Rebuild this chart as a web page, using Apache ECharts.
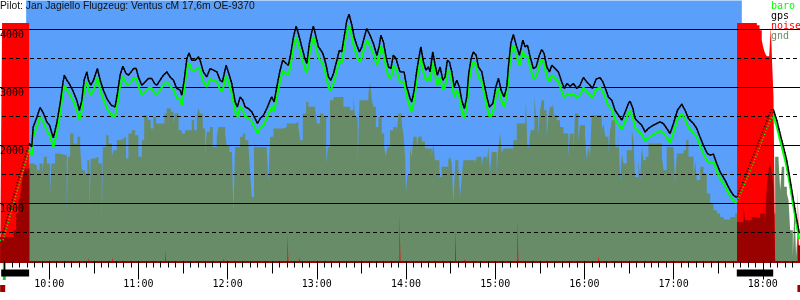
<!DOCTYPE html>
<html>
<head>
<meta charset="utf-8">
<script src="https://cdn.jsdelivr.net/npm/echarts@6/dist/echarts.min.js"></script>
<style>
html, body { margin: 0; padding: 0; background: #fff; }
#chart { width: 800px; height: 300px; }
</style>
</head>
<body>
<div id="chart"></div>
<script>
// Barogramm: Zeit in Minuten seit Mitternacht, Höhe in m
var titleText = 'Pilot: Jan Jagiello Flugzeug: Ventus cM 17,6m OE-9370';
var legendNames = ['baro', 'gps', 'noise', 'gnd'];
var solidLevels = [1000, 2000, 3000, 4000];
var dashedLevels = [500, 1500, 2500, 3500];
var flightWindow = [584.5, 1065.9];
var engineRuns = [[567.7, 586.5], [1062.5, 1087.0]];
var takeoffMark = [568.8, 570.8];
var edgeMarks = [[567.0, 570.4], [1103.3, 1106.0]];

var times = [
  567.0, 569.0, 577.1, 586.5, 588.3, 589.2, 591.7, 593.9, 596.1, 598.4,
  600.2, 601.8, 602.8, 605.1, 607.4, 609.2, 610.2, 611.9, 614.1, 616.3,
  618.6, 620.3, 622.0, 623.5, 625.3, 626.4, 628.0, 629.8, 632.4, 634.3,
  636.5, 638.8, 641.7, 644.3, 645.9, 647.7, 649.5, 651.7, 653.3, 655.1,
  656.7, 658.5, 660.0, 662.3, 664.5, 666.7, 669.0, 670.8, 672.4, 674.6,
  676.8, 679.1, 681.3, 683.6, 685.8, 688.1, 689.2, 690.8, 692.6, 694.1,
  695.9, 698.2, 700.4, 701.5, 703.7, 706.0, 708.2, 710.5, 712.8, 715.0,
  716.5, 719.0, 721.2, 722.8, 725.1, 726.6, 728.4, 730.2, 731.8, 734.0,
  736.3, 738.5, 740.1, 741.9, 744.1, 746.4, 748.6, 749.7, 751.3, 753.1,
  755.3, 757.1, 759.4, 760.9, 762.5, 764.3, 766.1, 767.6, 769.9, 771.7,
  773.3, 775.0, 776.6, 777.7, 779.5, 781.1, 782.7, 784.1, 786.3, 787.8,
  789.4, 791.2, 793.5, 795.2, 796.8, 798.4, 800.2, 801.7, 803.6, 805.1,
  806.9, 808.7, 810.3, 812.0, 813.6, 814.7, 816.3, 818.1, 820.4, 821.9,
  823.1, 824.8, 826.6, 828.2, 829.8, 831.5, 833.3, 834.9, 836.0, 838.7,
  840.5, 842.8, 843.9, 845.5, 847.3, 848.8, 850.0, 851.7, 853.5, 855.1,
  856.2, 858.0, 859.6, 861.1, 862.9, 864.8, 866.3, 867.8, 869.2, 870.8,
  872.4, 874.2, 875.9, 877.5, 879.3, 880.9, 882.2, 883.8, 885.3, 887.2,
  888.7, 891.0, 892.5, 894.4, 896.1, 898.4, 900.4, 902.2, 904.0, 906.0,
  907.8, 908.9, 910.5, 912.2, 914.5, 916.3, 918.6, 920.1, 921.7, 923.5,
  925.7, 927.5, 929.7, 931.3, 932.9, 934.7, 936.5, 938.1, 940.3, 942.5,
  944.8, 946.5, 948.2, 950.4, 952.6, 954.9, 957.1, 959.3, 961.6, 963.8,
  965.4, 967.9, 970.6, 972.4, 974.6, 976.1, 978.4, 980.6, 982.9, 985.2,
  987.4, 989.6, 990.7, 992.6, 994.1, 996.3, 998.6, 1000.8, 1003.0, 1006.4,
  1010.9, 1013.1, 1015.4, 1017.6, 1019.9, 1022.6, 1025.5, 1027.7, 1030.0, 1033.3,
  1035.6, 1037.8, 1040.0, 1042.7, 1044.5, 1046.8, 1049.0, 1051.3, 1054.6, 1058.0,
  1060.2, 1062.5, 1071.5, 1078.2, 1086.0, 1087.1, 1089.4, 1091.6, 1093.9, 1096.1,
  1098.4, 1100.6, 1102.9, 1104.6
];

var gps = [
  505, 505, 1229, 2040, 1976, 2315, 2488, 2655, 2557, 2407,
  2350, 2212, 2134, 2384, 2729, 3074, 3212, 3126, 3039, 2924,
  2781, 2608, 2781, 3126, 3269, 3126, 3039, 3126, 3327, 3126,
  2953, 2810, 2695, 2665, 2896, 3212, 3367, 3241, 3212, 3269,
  3327, 3327, 3183, 3039, 3096, 3155, 3155, 3069, 3039, 3126,
  3212, 3269, 3183, 3126, 2983, 2953, 2867, 3126, 3500, 3596,
  3470, 3470, 3527, 3470, 3269, 3183, 3327, 3298, 3269, 3126,
  3096, 3384, 3212, 3069, 2751, 2665, 2838, 2781, 2665, 2638,
  2579, 2465, 2379, 2465, 2522, 2638, 2781, 2838, 2751, 3010,
  3298, 3470, 3414, 3384, 3586, 3872, 4057, 3931, 3700, 3527,
  3414, 3758, 3958, 4057, 3872, 3700, 3643, 3586, 3384, 3183,
  3126, 3241, 3470, 3643, 3614, 3872, 4160, 4264, 4074, 3872,
  3729, 3614, 3700, 3872, 4017, 3988, 3872, 3758, 3557, 3700,
  3901, 3786, 3527, 3355, 3327, 3557, 3500, 3355, 3269, 3269,
  3010, 2810, 2751, 2953, 3298, 3527, 3700, 3441, 3298, 3355,
  3269, 3614, 3384, 3212, 3355, 3126, 3183, 3470, 3441, 3269,
  3010, 3126, 3010, 2781, 2638, 2838, 3241, 3500, 3614, 3557,
  3355, 3269, 3069, 2838, 2665, 2724, 3010, 3155, 2953, 2838,
  3010, 3355, 3758, 3913, 3700, 3557, 3815, 3700, 3729, 3527,
  3327, 3355, 3557, 3655, 3586, 3355, 3269, 3384, 3327, 3269,
  3096, 2983, 3069, 3022, 3069, 2983, 3039, 3172, 3096, 3039,
  2983, 3143, 3172, 3096, 2953, 2838, 2781, 2608, 2522, 2436,
  2579, 2724, 2764, 2638, 2465, 2407, 2350, 2234, 2293, 2350,
  2407, 2379, 2293, 2207, 2379, 2608, 2712, 2608, 2465, 2379,
  2293, 2148, 2005, 1862, 1833, 1850, 1690, 1545, 1402, 1229,
  1143, 1103, 1690, 2126, 2643, 2625, 2436, 2207, 1976, 1746,
  1402, 1057, 712, 483
];

var baro = [
  367, 367, 1091, 1919, 1830, 2150, 2320, 2490, 2400, 2250,
  2190, 2050, 1975, 2210, 2560, 2900, 3040, 2960, 2870, 2760,
  2610, 2440, 2610, 2950, 3100, 2960, 2870, 2950, 3160, 2960,
  2790, 2640, 2530, 2500, 2720, 3040, 3190, 3070, 3040, 3100,
  3160, 3160, 3020, 2870, 2930, 2990, 2990, 2900, 2870, 2960,
  3040, 3100, 3020, 2960, 2820, 2790, 2700, 2950, 3320, 3420,
  3300, 3300, 3350, 3300, 3100, 3010, 3150, 3120, 3100, 2960,
  2930, 3210, 3040, 2900, 2590, 2500, 2670, 2620, 2500, 2470,
  2410, 2300, 2210, 2300, 2350, 2470, 2610, 2670, 2580, 2840,
  3120, 3290, 3240, 3210, 3400, 3690, 3870, 3750, 3520, 3350,
  3240, 3570, 3770, 3870, 3690, 3520, 3460, 3400, 3200, 3010,
  2950, 3070, 3290, 3460, 3430, 3680, 3960, 4070, 3880, 3690,
  3550, 3440, 3520, 3690, 3830, 3800, 3690, 3580, 3380, 3520,
  3720, 3600, 3350, 3180, 3150, 3380, 3320, 3180, 3100, 3100,
  2840, 2640, 2580, 2780, 3120, 3350, 3520, 3270, 3120, 3180,
  3100, 3430, 3210, 3040, 3180, 2960, 3010, 3290, 3270, 3100,
  2840, 2960, 2840, 2610, 2470, 2670, 3070, 3320, 3440, 3380,
  3180, 3100, 2900, 2670, 2500, 2560, 2840, 2990, 2790, 2670,
  2840, 3180, 3580, 3730, 3530, 3380, 3630, 3520, 3550, 3350,
  3160, 3180, 3380, 3480, 3410, 3180, 3100, 3210, 3160, 3100,
  2930, 2820, 2900, 2860, 2900, 2820, 2870, 3000, 2930, 2870,
  2820, 2970, 3000, 2930, 2790, 2680, 2620, 2450, 2360, 2280,
  2420, 2560, 2600, 2480, 2310, 2250, 2190, 2080, 2130, 2190,
  2250, 2220, 2140, 2050, 2220, 2450, 2550, 2450, 2310, 2220,
  2140, 2000, 1860, 1730, 1700, 1720, 1570, 1430, 1300, 1130,
  1050, 1010, 1560, 1990, 2500, 2520, 2330, 2090, 1860, 1630,
  1290, 950, 600, 380
];

// Geländehöhe [Zeit, m], Stufen
var gnd = [
  [586.5,1689],[589.4,1660],[591.7,1574],[593.5,1689],[595.5,1545],[596.6,1804],[598.4,1689],[600.6,1143],[601.5,1689],[604.0,1861],
  [606.2,1833],[611.8,770],[612.5,1804],[614.1,2206],[616.3,2034],[619.0,2149],[620.8,1976],[621.9,1574],[624.2,1517],[625.7,1747],
  [627.1,884],[628.0,1775],[630.9,1804],[633.1,1689],[635.4,712],[636.1,1976],[638.3,2177],[639.9,2034],[642.1,1804],[643.2,1919],
  [645.5,2091],[647.7,2120],[650.0,2149],[651.7,1775],[653.3,2206],[655.6,2264],[657.8,2177],[660.0,1804],[662.3,2091],[663.9,2522],
  [665.6,2551],[666.8,2436],[668.3,2292],[670.1,2494],[671.9,2379],[677.5,2551],[679.1,2637],[681.8,2580],[683.6,2379],[684.7,2551],
  [687.0,2264],[689.2,2206],[691.4,2264],[695.9,2436],[697.5,2264],[699.3,2522],[700.4,2637],[701.5,2551],[703.3,2292],[704.9,1861],
  [706.0,2235],[708.2,2321],[710.0,1976],[712.7,2149],[713.8,2321],[718.3,2206],[719.4,2005],[721.2,1890],[722.8,2034],[723.9,827],
  [725.0,1976],[728.4,2149],[730.2,2206],[731.8,2091],[734.0,2034],[735.1,1517],[736.3,1114],[737.8,1976],[746.3,1919],[747.5,1373],
  [748.6,2149],[750.8,2292],[757.5,2321],[759.8,2379],[765.4,2407],[767.6,2321],[768.8,2091],[770.6,2551],[772.8,2752],[774.4,2666],
  [778.9,2608],[780.0,2379],[782.2,2551],[784.5,2494],[786.3,1689],[787.4,1976],[788.9,2781],[791.2,2838],[797.9,2666],[802.4,2608],
  [804.6,2838],[805.8,2494],[807.5,1689],[808.7,2781],[814.7,2896],[815.8,3097],[817.0,2781],[818.1,2666],[819.7,2321],[821.5,2494],
  [823.7,2206],[825.3,1976],[826.4,1804],[827.5,1976],[829.3,2264],[831.5,2321],[833.8,2206],[834.9,2551],[837.1,2379],[838.2,2206],
  [839.4,1804],[840.0,1200],[840.9,1488],[842.7,1976],[843.8,1804],[845.0,2149],[847.2,1948],[848.3,2149],[850.6,2063],[852.8,1948],
  [857.3,1804],[858.4,2034],[859.5,1747],[862.5,1459],[864.0,1632],[868.5,1747],[869.6,1804],[870.8,1689],[871.9,999],[873.2,1747],
  [875.2,1632],[876.4,1114],[877.5,1459],[878.6,1747],[886.4,1689],[887.6,1804],[890.9,1632],[892.1,1804],[894.3,1689],[895.4,1976],
  [896.5,1517],[897.7,1890],[901.0,1517],[902.1,1976],[903.3,2206],[904.4,1861],[905.5,1948],[912.2,2091],[914.5,2379],[920.1,2350],
  [920.7,2752],[921.6,1976],[923.0,2091],[923.9,2264],[926.4,2838],[927.5,2494],[929.0,2149],[930.2,2608],[931.3,2781],[932.9,2608],
  [934.6,2149],[935.8,2494],[936.9,2666],[938.7,2752],[939.6,2522],[941.4,2436],[943.6,2321],[945.9,2206],[949.2,1804],[950.3,2206],
  [952.6,1861],[953.7,2551],[955.9,2091],[957.1,2350],[960.4,2149],[961.6,1747],[962.7,2005],[963.8,1804],[964.9,2522],[971.7,2264],
  [972.8,2379],[974.0,2149],[976.2,1861],[977.3,2264],[978.4,2436],[980.7,1976],[982.9,2177],[984.1,1373],[985.2,1861],[986.3,1689],
  [988.5,1919],[991.9,2264],[993.0,2091],[994.1,1459],[996.4,1747],[997.5,1402],[998.6,1976],[999.7,1747],[1001.3,1804],[1003.1,2034],
  [1012.1,1804],[1013.2,1574],[1015.4,1976],[1019.9,1948],[1021.0,1344],[1022.2,1861],[1026.7,1919],[1028.4,2091],[1030.0,1804],[1033.4,1459],
  [1034.5,1747],[1035.6,1402],[1037.9,1632],[1040.1,1517],[1042.3,1172],[1044.6,999],[1046.8,884],[1049.1,827],[1051.3,769],[1053.6,723],
  [1058.0,769],[1061.4,827],[1088.3,1804],[1090.6,1747],[1091.7,1229],[1092.8,1632],[1094.4,1287],[1096.2,1172],[1097.3,1057],[1098.4,540],
  [1100.2,80],[1101.3,942],[1102.4,80],[1103.3,482],[1104.5,137],[1106.0,137]
];

// Motorgeräusch (hell) und Geräuschpegel (dunkel)
var noise = [
  [567.0,0],[568.3,4110],[586.5,0],[626.4,57],[627.1,0],[642.5,69],[643.2,0],[678.0,195],[678.7,0],
  [717.2,57],[717.9,0],[760.2,470],[760.9,0],[768.3,79],[769.0,0],[835.6,815],[836.3,0],
  [873.0,574],[873.7,0],[879.3,45],[880.0,0],[914.9,712],[915.6,0],[969.4,91],[970.1,0],
  [1062.7,4113],[1076.0,4074],[1077.8,3988],[1079.3,3816],[1080.5,3672],[1081.6,3586],[1082.7,3540],
  [1084.3,3528],[1085.4,4045],[1086.3,3413],[1087.2,2838],[1088.3,0],[1103.5,1264],[1104.4,0],[1106.0,0]
];
var noiseLow = [
  [567.0,424],[576.0,540],[577.8,832],[579.3,1057],[580.5,1114],[581.6,1373],[582.7,1517],[583.8,1603],[586.7,0],
  [1062.7,683],[1067.0,942],[1068.1,712],[1072.6,769],[1076.0,741],[1078.2,827],[1080.5,942],[1081.6,712],
  [1082.7,1287],[1083.8,1574],[1084.9,1689],[1086.1,1517],[1087.2,1287],[1088.3,0],[1103.5,281],[1106.0,281]
];

var chart = echarts.init(document.getElementById('chart'));

function hhmm(m) {
    var h = Math.floor(m / 60), mm = Math.round(m % 60);
    return h + ':' + (mm < 10 ? '0' : '') + mm;
}
function inRun(t) {
    return engineRuns.some(function (r) { return t > r[0] && t < r[1]; });
}
function track(vals, solid) {
    return times.map(function (t, i) {
        return [t, (solid && inRun(t)) ? '-' : vals[i]];
    });
}
function spans(list) {
    return list.map(function (r) { return [{ xAxis: r[0] }, { xAxis: r[1] }]; });
}

var mono = 'DejaVu Sans Mono';

function gridAt(top, bottom, height) {
    var g = { left: -40, right: -52, top: top, outerBoundsMode: 'none', containLabel: false };
    if (height != null) g.height = height; else g.bottom = bottom;
    return g;
}
function hiddenX(i) {
    return { type: 'value', gridIndex: i, min: 540, max: 1140, show: false };
}
function hiddenY(i) {
    return { type: 'value', gridIndex: i, min: 0, max: 1, show: false };
}
function strip(i, list, color) {
    return {
        type: 'line', xAxisIndex: i, yAxisIndex: i, data: [], silent: true,
        markArea: { silent: true, itemStyle: { color: color }, label: { show: false }, data: spans(list) }
    };
}

var option = {
    animation: false,
    backgroundColor: '#fff',
    title: {
        text: titleText, left: 0, top: 1, padding: 0, z: 20,
        textStyle: { fontFamily: 'Liberation Sans', fontSize: 10.3, fontWeight: 'normal', color: '#111' }
    },
    legend: {
        data: [
            { name: 'baro', textStyle: { color: '#00ff00' } },
            { name: 'gps', textStyle: { color: '#000' } },
            { name: 'noise', textStyle: { color: '#ff0000' } },
            { name: 'gnd', textStyle: { color: '#6a8a66' } }
        ],
        orient: 'vertical', left: 765, top: 1, padding: 0, itemGap: 0,
        itemWidth: 0, itemHeight: 0, selectedMode: false, z: 20,
        textStyle: { fontFamily: mono, fontSize: 10, lineHeight: 10 }
    },
    grid: [
        gridAt(0.5, 38.5),
        gridAt(0.5, 38.5),
        gridAt(262, null, 18),
        gridAt(269.5, null, 7),
        gridAt(285, null, 7)
    ],
    xAxis: [
        {
            type: 'value', gridIndex: 0, min: 540, max: 1140, interval: 60, position: 'bottom',
            axisLine: { onZero: false, lineStyle: { color: '#990000', width: 2 } },
            axisTick: { length: 18, lineStyle: { color: '#000' } },
            minorTick: { show: true, splitNumber: 12, length: 6, lineStyle: { color: '#000' } },
            splitLine: { show: false },
            axisLabel: { formatter: hhmm, margin: 18, fontFamily: mono, fontSize: 10, color: '#000' },
            z: 10
        },
        {
            type: 'value', gridIndex: 1, min: 540, max: 1140, interval: 30, position: 'bottom',
            axisLine: { show: false },
            axisTick: { length: 12, lineStyle: { color: '#000' } },
            splitLine: { show: false }, axisLabel: { show: false }, z: 10
        },
        hiddenX(2), hiddenX(3), hiddenX(4)
    ],
    yAxis: [
        {
            type: 'value', gridIndex: 0, min: 0, max: 4500, interval: 1000, offset: -40,
            axisLine: { show: false }, axisTick: { show: false }, splitLine: { show: false },
            axisLabel: {
                inside: true, margin: 0, verticalAlign: 'top', padding: [1, 0, 0, 0],
                fontFamily: mono, fontSize: 10, color: '#000',
                formatter: function (v) { return (v > 0 && v % 1000 === 0) ? String(v) : ''; }
            },
            z: 12
        },
        { type: 'value', gridIndex: 1, min: 0, max: 4500, show: false },
        hiddenY(2), hiddenY(3), hiddenY(4)
    ],
    series: [
        {
            type: 'line', data: [[flightWindow[0], 0]], symbol: 'none', z: 0, silent: true,
            lineStyle: { opacity: 0 },
            markArea: { silent: true, itemStyle: { color: '#5a9ffa' }, label: { show: false },
                data: spans([flightWindow]) }
        },
        {
            name: 'gnd', type: 'line', step: 'end', data: gnd, symbol: 'none', z: 2, silent: true,
            lineStyle: { width: 0, opacity: 0 }, itemStyle: { color: '#688c67' },
            areaStyle: { color: '#688c67', opacity: 1 }
        },
        {
            name: 'noise', type: 'line', step: 'end', data: noise, symbol: 'none', z: 3, silent: true,
            lineStyle: { width: 0, opacity: 0 }, itemStyle: { color: '#ff0000' },
            areaStyle: { color: '#ff0000', opacity: 1 }
        },
        {
            name: 'noiseLow', type: 'line', step: 'end', data: noiseLow, symbol: 'none', z: 4, silent: true,
            lineStyle: { width: 0, opacity: 0 }, areaStyle: { color: '#990000', opacity: 1 }
        },
        {
            type: 'line', data: [], z: 5, silent: true,
            markLine: {
                silent: true, symbol: 'none', label: { show: false },
                data: solidLevels.map(function (v) {
                    return { yAxis: v, lineStyle: { color: '#000', width: 1, type: 'solid' } };
                }).concat(dashedLevels.map(function (v) {
                    return { yAxis: v, lineStyle: { color: '#000', width: 1, type: [4, 3] } };
                }))
            }
        },
        {
            name: 'baro', type: 'line', data: track(baro, false), symbol: 'none', z: 6, silent: true,
            itemStyle: { color: '#00ff00' }, lineStyle: { color: '#00ff00', width: 1.5, type: [1, 2] }
        },
        {
            name: 'gps', type: 'line', data: track(gps, false), symbol: 'none', z: 7, silent: true,
            itemStyle: { color: '#000' }, lineStyle: { color: '#000', width: 1.5, type: [1, 2] }
        },
        {
            name: 'baro', type: 'line', data: track(baro, true), symbol: 'none', z: 8, silent: true,
            connectNulls: false, itemStyle: { color: '#00ff00' }, lineStyle: { color: '#00ff00', width: 2 }
        },
        {
            name: 'gps', type: 'line', data: track(gps, true), symbol: 'none', z: 9, silent: true,
            connectNulls: false, itemStyle: { color: '#000' }, lineStyle: { color: '#000', width: 1.4 }
        },
        strip(2, [takeoffMark], '#22cc22'),
        strip(3, engineRuns, '#000'),
        strip(4, edgeMarks, '#990000')
    ]
};

chart.setOption(option);
</script>
</body>
</html>
